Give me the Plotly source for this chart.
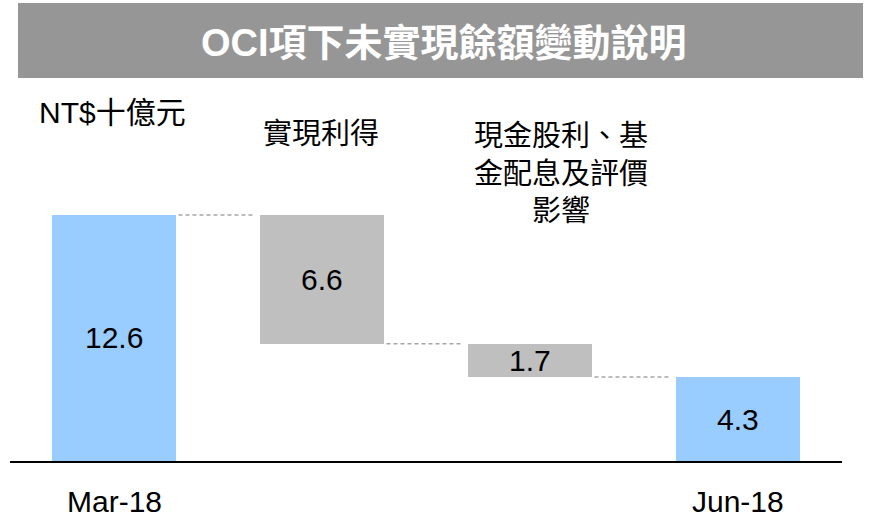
import plotly.graph_objects as go

# Data (NT$ billion)
categories = ["Mar-18", "實現利得", "現金股利、基<br>金配息及評價<br>影響", "Jun-18"]
tick_labels = ["Mar-18", "", "", "Jun-18"]
start_value = 12.6
changes = [-6.6, -1.7]
title_text = "OCI項下未實現餘額變動說明"
unit_text = "NT$十億元"

# Build the floating waterfall bars
end_value = round(start_value + sum(changes), 1)
heights = [start_value] + [abs(c) for c in changes] + [end_value]
bases = [0.0]
level = start_value
levels = [start_value]
for c in changes:
    level = round(level + c, 1)
    bases.append(level)
    levels.append(level)
bases.append(0.0)

BLUE = "#99CCFF"
GREY = "#BFBFBF"
colors = [BLUE, GREY, GREY, BLUE]
xs = list(range(len(heights)))

LATIN = "'Liberation Sans', Arial, 'Noto Sans CJK TC', sans-serif"
CJK = "'Noto Sans CJK TC', 'Liberation Sans', sans-serif"

fig = go.Figure()
fig.add_trace(go.Bar(
    x=xs, y=heights, base=bases, width=0.596,
    marker=dict(color=colors, line=dict(width=0)),
    hoverinfo="skip", showlegend=False,
))

# Dashed connectors between consecutive bars
for i, lv in enumerate(levels):
    fig.add_trace(go.Scatter(
        x=[i + 0.31, i + 0.67], y=[lv, lv], mode="lines",
        line=dict(color="#A6A6A6", width=1.5, dash="4px,3px"),
        hoverinfo="skip", showlegend=False,
    ))

W, H = 875, 516
L, R, T, B = 10, 33, 90, 55
pw, ph = W - L - R, H - T - B


def px_x(p):
    return (p - L) / pw


def px_y(p):
    return (H - B - p) / ph


annotations = []
# Value labels centred in each bar
for i, (h, b) in enumerate(zip(heights, bases)):
    annotations.append(dict(
        x=i, y=b + h / 2, xref="x", yref="y", text=f"{h:.1f}",
        xanchor="center", yanchor="middle",
        showarrow=False, font=dict(family=LATIN, size=30, color="black"),
    ))

# Category labels under the axis
for i, t in enumerate(tick_labels):
    if t:
        annotations.append(dict(
            x=i, y=0, xref="x", yref="paper", text=t, showarrow=False,
            xanchor="center", yanchor="middle", yshift=-40,
            font=dict(family=LATIN, size=30, color="black"),
        ))

# Descriptions above the middle bars
annotations.append(dict(
    x=px_x(321), y=px_y(131), xref="paper", yref="paper", text=categories[1],
    xanchor="center", yanchor="middle",
    showarrow=False, font=dict(family=CJK, size=29, color="black"),
))
annotations.append(dict(
    x=px_x(561), y=px_y(170), xref="paper", yref="paper", text=categories[2],
    xanchor="center", yanchor="middle",
    showarrow=False, align="center", font=dict(family=CJK, size=29, color="black"),
))

# Unit label
annotations.append(dict(
    x=px_x(37), y=px_y(113), xref="paper", yref="paper", text=unit_text,
    xanchor="left", yanchor="middle",
    showarrow=False, font=dict(family=LATIN, size=30, color="black"),
))

# Title banner
annotations.append(dict(
    x=px_x(444), y=px_y(43), xref="paper", yref="paper", text=f"<b>{title_text}</b>",
    xanchor="center", yanchor="middle",
    showarrow=False, font=dict(family=LATIN, size=38, color="white"),
))

fig.update_layout(
    width=W, height=H,
    margin=dict(l=L, r=R, t=T, b=B),
    paper_bgcolor="white", plot_bgcolor="white",
    xaxis=dict(range=[-0.5, 3.5], showticklabels=False, showgrid=False, zeroline=False,
               showline=True, linecolor="black", linewidth=2, ticks="", fixedrange=True),
    yaxis=dict(range=[0, 19.0], visible=False, fixedrange=True),
    shapes=[dict(
        type="rect", xref="paper", yref="paper",
        x0=px_x(18), x1=px_x(863), y0=px_y(78), y1=px_y(3),
        fillcolor="#969696", line=dict(width=0), layer="below",
    )],
    annotations=annotations,
    bargap=0,
)

fig.write_html("out.html")
